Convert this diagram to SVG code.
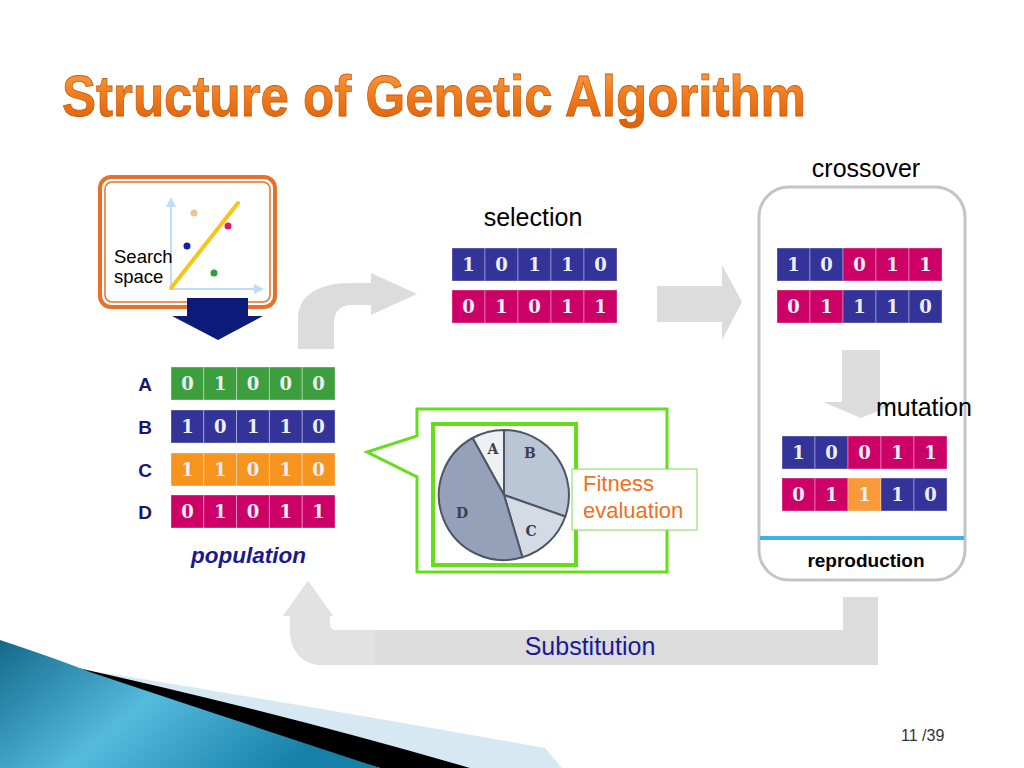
<svg xmlns="http://www.w3.org/2000/svg" width="1024" height="768" viewBox="0 0 1024 768">
  <defs>
    <linearGradient id="titleGrad" x1="0" y1="0" x2="0" y2="1">
      <stop offset="0" stop-color="#FBA24E"/>
      <stop offset="0.5" stop-color="#F07A1C"/>
      <stop offset="1" stop-color="#D9600C"/>
    </linearGradient>
    <linearGradient id="swoosh" x1="0" y1="0" x2="1" y2="0.4">
      <stop offset="0" stop-color="#14698A"/>
      <stop offset="0.5" stop-color="#55BBDD"/>
      <stop offset="1" stop-color="#1680A8"/>
    </linearGradient>
    <marker id="axisHead" viewBox="0 0 10 10" refX="8" refY="5" markerWidth="5" markerHeight="5" orient="auto">
      <path d="M0,0 L10,5 L0,10 Z" fill="#BFDDF5"/>
    </marker>
  </defs>
  <style>
    .cell { stroke: rgba(255,255,255,0.35); stroke-width: 1; }
    .blue { fill: #33339A; }
    .mag { fill: #CC0066; }
    .grn { fill: #3C9E3C; }
    .org { fill: #F7941E; }
    .bit { font-family: "DejaVu Serif", "Liberation Serif", serif; font-weight: bold; font-size: 18px; fill: #ECF0FA; text-anchor: middle; }
    .label { font-family: "Liberation Sans", Arial, sans-serif; fill: #000; }
    .rowlbl { font-family: "Liberation Sans", Arial, sans-serif; font-weight: bold; font-size: 19px; fill: #16166E; text-anchor: middle; }
    .flow { fill: #DCDCDC; }
    .pie { stroke: #4E5666; stroke-width: 2; }
    .pielbl { font-family: "DejaVu Serif", serif; font-weight: bold; font-size: 14px; fill: #3A4050; text-anchor: middle; }
    .green { fill: none; stroke: #66DD1A; }
  </style>

  <rect width="1024" height="768" fill="#FFFFFF"/>

  <!-- bottom-left decorative swoosh -->
  <g id="decor">
    <path d="M100,672 Q320,708 545,748 L562,768 L440,768 Q250,712 100,672 Z" fill="#D6E8F2"/>
    <path d="M60,664 Q270,710 470,768 L380,768 Q220,722 60,664 Z" fill="#000000"/>
    <path d="M0,640 Q60,660 90,672 Q240,722 380,768 L0,768 Z" fill="url(#swoosh)"/>
  </g>

  <!-- title -->
  <text id="title" x="62" y="116" font-family="Liberation Sans, Arial, sans-serif" font-weight="bold" font-size="57" textLength="744" lengthAdjust="spacingAndGlyphs" fill="url(#titleGrad)" stroke="#C85A0A" stroke-width="0.8">Structure of Genetic Algorithm</text>

  <!-- connectors: broad grey flow arrows -->
  <g id="connectors">
    <path class="flow" d="M298,349 L298,318 C298,295 320,283 350,283 L371,283 L371,273 L417,294 L371,315 L371,305 L352,305 C340,305 334,312 334,322 L334,349 Z"/>
    <path class="flow" d="M657,286 L722,286 L722,265 L742,302 L722,340 L722,322 L657,322 Z"/>
    <path class="flow" d="M842,350 L880,350 L880,402 L900,402 L861,418 L823,402 L842,402 Z"/>
    <path class="flow" d="M843,597 L878,597 L878,665 L322,665 C302,665 290,650 290,630 L290,616 L283,616 L308,581 L333,616 L330,616 L330,624 C330,628 332,630 336,630 L843,630 Z"/>
    <path d="M322,665 C302,665 290,650 290,630 L290,616 L283,616 L308,581 L333,616 L330,616 L330,624 C330,628 332,630 336,630 L375,630 L375,665 Z" fill="#E2E2E2"/>
  </g>

  <!-- search space -->
  <g id="search-space">
    <rect x="100" y="177" width="175" height="130" rx="11" fill="#FFFFFF" stroke="#E8702A" stroke-width="4"/>
    <rect x="105" y="182" width="165" height="120" rx="7" fill="none" stroke="#E8702A" stroke-width="1.5"/>
    <line x1="171" y1="289" x2="171" y2="199" stroke="#BFDDF5" stroke-width="2" marker-end="url(#axisHead)"/>
    <line x1="171" y1="289" x2="262" y2="289" stroke="#BFDDF5" stroke-width="2" marker-end="url(#axisHead)"/>
    <line x1="171" y1="288" x2="238" y2="203" stroke="#F5C518" stroke-width="4" stroke-linecap="round"/>
    <circle cx="194" cy="213" r="3.5" fill="#E8C890"/>
    <circle cx="228" cy="226" r="3.5" fill="#E0186A"/>
    <circle cx="187" cy="246" r="3.5" fill="#1020A0"/>
    <circle cx="214" cy="273" r="3.5" fill="#2E9E40"/>
    <text class="label" x="114" y="263" font-size="18.5">Search</text>
    <text class="label" x="114" y="283" font-size="18.5">space</text>
  </g>

  <g id="encode-arrow">
    <path d="M187,298 L248,298 L248,316 L263,316 L218,340 L172,316 L187,316 Z" fill="#0C1A7A"/>
  </g>

  <!-- population -->
  <g id="population">
    <text class="rowlbl" x="145" y="391">A</text>
    <text class="rowlbl" x="145" y="434">B</text>
    <text class="rowlbl" x="145" y="477">C</text>
    <text class="rowlbl" x="145" y="519">D</text>
    <g>
      <rect class="cell grn" x="171" y="367" width="32.8" height="33"/>
      <rect class="cell grn" x="203.8" y="367" width="32.8" height="33"/>
      <rect class="cell grn" x="236.6" y="367" width="32.8" height="33"/>
      <rect class="cell grn" x="269.4" y="367" width="32.8" height="33"/>
      <rect class="cell grn" x="302.2" y="367" width="32.8" height="33"/>
      <text class="bit" y="390"><tspan x="187.4">0</tspan><tspan x="220.2">1</tspan><tspan x="253">0</tspan><tspan x="285.8">0</tspan><tspan x="318.6">0</tspan></text>
    </g>
    <g>
      <rect class="cell blue" x="171" y="410" width="32.8" height="33"/>
      <rect class="cell blue" x="203.8" y="410" width="32.8" height="33"/>
      <rect class="cell blue" x="236.6" y="410" width="32.8" height="33"/>
      <rect class="cell blue" x="269.4" y="410" width="32.8" height="33"/>
      <rect class="cell blue" x="302.2" y="410" width="32.8" height="33"/>
      <text class="bit" y="433"><tspan x="187.4">1</tspan><tspan x="220.2">0</tspan><tspan x="253">1</tspan><tspan x="285.8">1</tspan><tspan x="318.6">0</tspan></text>
    </g>
    <g>
      <rect class="cell org" x="171" y="453" width="32.8" height="33"/>
      <rect class="cell org" x="203.8" y="453" width="32.8" height="33"/>
      <rect class="cell org" x="236.6" y="453" width="32.8" height="33"/>
      <rect class="cell org" x="269.4" y="453" width="32.8" height="33"/>
      <rect class="cell org" x="302.2" y="453" width="32.8" height="33"/>
      <text class="bit" y="476"><tspan x="187.4">1</tspan><tspan x="220.2">1</tspan><tspan x="253">0</tspan><tspan x="285.8">1</tspan><tspan x="318.6">0</tspan></text>
    </g>
    <g>
      <rect class="cell mag" x="171" y="495" width="32.8" height="33"/>
      <rect class="cell mag" x="203.8" y="495" width="32.8" height="33"/>
      <rect class="cell mag" x="236.6" y="495" width="32.8" height="33"/>
      <rect class="cell mag" x="269.4" y="495" width="32.8" height="33"/>
      <rect class="cell mag" x="302.2" y="495" width="32.8" height="33"/>
      <text class="bit" y="518"><tspan x="187.4">0</tspan><tspan x="220.2">1</tspan><tspan x="253">0</tspan><tspan x="285.8">1</tspan><tspan x="318.6">1</tspan></text>
    </g>
    <text x="191" y="563" font-family="Liberation Sans, Arial, sans-serif" font-weight="bold" font-style="italic" font-size="22.5" fill="#1A1A8C">population</text>
  </g>

  <!-- selection -->
  <g id="selection">
    <text class="label" x="533" y="226" font-size="25" text-anchor="middle">selection</text>
    <rect class="cell blue" x="452" y="248" width="33" height="33"/>
    <rect class="cell blue" x="485" y="248" width="33" height="33"/>
    <rect class="cell blue" x="518" y="248" width="33" height="33"/>
    <rect class="cell blue" x="551" y="248" width="33" height="33"/>
    <rect class="cell blue" x="584" y="248" width="33" height="33"/>
    <text class="bit" y="271"><tspan x="468.5">1</tspan><tspan x="501.5">0</tspan><tspan x="534.5">1</tspan><tspan x="567.5">1</tspan><tspan x="600.5">0</tspan></text>
    <rect class="cell mag" x="452" y="290" width="33" height="33"/>
    <rect class="cell mag" x="485" y="290" width="33" height="33"/>
    <rect class="cell mag" x="518" y="290" width="33" height="33"/>
    <rect class="cell mag" x="551" y="290" width="33" height="33"/>
    <rect class="cell mag" x="584" y="290" width="33" height="33"/>
    <text class="bit" y="313"><tspan x="468.5">0</tspan><tspan x="501.5">1</tspan><tspan x="534.5">0</tspan><tspan x="567.5">1</tspan><tspan x="600.5">1</tspan></text>
  </g>

  <!-- reproduction: crossover + mutation -->
  <g id="reproduction">
    <text class="label" x="866" y="177" font-size="25" text-anchor="middle">crossover</text>
    <rect x="759" y="187" width="206" height="393" rx="30" fill="none" stroke="#C4C4C4" stroke-width="3"/>
    <line x1="760" y1="538" x2="964" y2="538" stroke="#3AB4E6" stroke-width="4"/>
    <text x="866" y="567" font-family="Liberation Sans, Arial, sans-serif" font-weight="bold" font-size="19" text-anchor="middle" fill="#000">reproduction</text>
  </g>

  <g id="crossover">
    <rect class="cell blue" x="777" y="248" width="33" height="33"/>
    <rect class="cell blue" x="810" y="248" width="33" height="33"/>
    <rect class="cell mag" x="843" y="248" width="33" height="33"/>
    <rect class="cell mag" x="876" y="248" width="33" height="33"/>
    <rect class="cell mag" x="909" y="248" width="33" height="33"/>
    <text class="bit" y="271"><tspan x="793.5">1</tspan><tspan x="826.5">0</tspan><tspan x="859.5">0</tspan><tspan x="892.5">1</tspan><tspan x="925.5">1</tspan></text>
    <rect class="cell mag" x="777" y="290" width="33" height="33"/>
    <rect class="cell mag" x="810" y="290" width="33" height="33"/>
    <rect class="cell blue" x="843" y="290" width="33" height="33"/>
    <rect class="cell blue" x="876" y="290" width="33" height="33"/>
    <rect class="cell blue" x="909" y="290" width="33" height="33"/>
    <text class="bit" y="313"><tspan x="793.5">0</tspan><tspan x="826.5">1</tspan><tspan x="859.5">1</tspan><tspan x="892.5">1</tspan><tspan x="925.5">0</tspan></text>
  </g>

  <g id="mutation">
    <text class="label" x="876" y="416" font-size="25">mutation</text>
    <rect class="cell blue" x="782" y="436" width="33" height="33"/>
    <rect class="cell blue" x="815" y="436" width="33" height="33"/>
    <rect class="cell mag" x="848" y="436" width="33" height="33"/>
    <rect class="cell mag" x="881" y="436" width="33" height="33"/>
    <rect class="cell mag" x="914" y="436" width="33" height="33"/>
    <text class="bit" y="459"><tspan x="798.5">1</tspan><tspan x="831.5">0</tspan><tspan x="864.5">0</tspan><tspan x="897.5">1</tspan><tspan x="930.5">1</tspan></text>
    <rect class="cell mag" x="782" y="478" width="33" height="33"/>
    <rect class="cell mag" x="815" y="478" width="33" height="33"/>
    <rect class="cell" x="848" y="478" width="33" height="33" fill="#F99A3A"/>
    <rect class="cell blue" x="881" y="478" width="33" height="33"/>
    <rect class="cell blue" x="914" y="478" width="33" height="33"/>
    <text class="bit" y="501"><tspan x="798.5">0</tspan><tspan x="831.5">1</tspan><tspan x="864.5">1</tspan><tspan x="897.5">1</tspan><tspan x="930.5">0</tspan></text>
  </g>

  <!-- fitness evaluation callout with roulette wheel -->
  <g id="fitness">
    <path class="green" stroke-width="3" d="M417,409 L667,409 L667,572 L417,572 L417,477 L367,452 L417,436 Z"/>
    <rect class="green" stroke-width="4" x="433" y="424" width="143" height="141"/>
    <path class="pie" fill="#EEF0F4" d="M504,495 L472.6,438 A65,65 0 0,1 504,430 Z"/>
    <path class="pie" fill="#BAC5D5" d="M504,495 L504,430 A65,65 0 0,1 565.3,516.5 Z"/>
    <path class="pie" fill="#D5DBE5" d="M504,495 L565.3,516.5 A65,65 0 0,1 522.4,557.3 Z"/>
    <path class="pie" fill="#95A1B9" d="M504,495 L522.4,557.3 A65,65 0 0,1 472.6,438 Z"/>
    <text class="pielbl" x="493" y="454">A</text>
    <text class="pielbl" x="530" y="458">B</text>
    <text class="pielbl" x="531" y="536">C</text>
    <text class="pielbl" x="462" y="518">D</text>
    <rect x="572" y="469" width="125" height="61" fill="#FFFFFF" stroke="#7ED957" stroke-width="1"/>
    <text x="583" y="491" font-family="Liberation Sans, Arial, sans-serif" font-size="22" fill="#F07020">Fitness</text>
    <text x="583" y="518" font-family="Liberation Sans, Arial, sans-serif" font-size="22" fill="#F07020">evaluation</text>
  </g>

  <g id="substitution">
    <text x="590" y="655" font-family="Liberation Sans, Arial, sans-serif" font-size="25" fill="#1A1A99" text-anchor="middle">Substitution</text>
  </g>

  <text id="page" x="901" y="741" font-family="Liberation Sans, Arial, sans-serif" font-size="16" fill="#333333">11 /39</text>
</svg>
